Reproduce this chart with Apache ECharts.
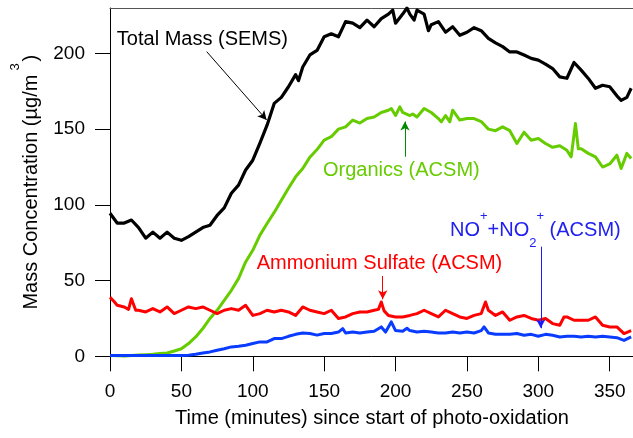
<!DOCTYPE html>
<html>
<head>
<meta charset="utf-8">
<script src="https://cdn.jsdelivr.net/npm/echarts@6/dist/echarts.min.js"></script>
<style>
html,body{margin:0;padding:0;background:#fff;}
#chart{width:633px;height:438px;}
</style>
</head>
<body>
<div id="chart"></div>
<script>
// ---- data (minutes, µg/m3) ----
const xTicks = [0, 50, 100, 150, 200, 250, 300, 350];
const yTicks = [0, 50, 100, 150, 200];

const totalMass = [
 [0,94.5],[5,88],[10,88],[15,90],[20,85],[25,78],[30,82],[35,78],[40,82],[45,78],[50,76.6],[55,79],[60,82],[65,85],[70,86.5],[75,93],[80,98],[85,107.7],[90,113],[95,123],[100,129.5],[105,140.7],[110,152.6],[115,167],[120,171],[125,178],[130,186],[132,182],[135,191],[140,199],[145,202],[150,211],[155,213],[160,211],[165,221],[170,220],[175,217],[180,222],[185,217.6],[190,223],[195,226],[198,228.6],[200,220],[205,226],[208,230],[210,226],[213,222],[215,228.6],[220,226],[223,215],[225,219],[230,221],[235,214],[240,217.6],[245,212],[250,214],[255,217],[260,215],[265,210],[270,207],[275,204.5],[280,201],[285,201],[290,199],[295,196.7],[300,195.6],[305,193],[310,190],[315,184.5],[320,183.6],[325,194],[330,189],[335,183.5],[340,177],[345,179],[350,178],[355,172],[358,169],[362,171],[365,177]
];
const organics = [
 [0,0.5],[5,0.3],[10,0],[15,0.5],[20,0.8],[25,1],[30,1.3],[35,1.8],[40,2.2],[45,3.5],[50,5],[55,8.4],[60,12.8],[65,18.3],[70,25],[75,30.4],[80,37],[85,43.6],[90,51.3],[95,62.3],[100,70],[105,80],[110,87.7],[115,95],[120,103],[125,111],[130,118.5],[135,124],[140,131.5],[145,136.5],[150,142.7],[155,145],[160,150],[165,151.5],[170,156],[175,154],[180,157],[185,158],[190,161],[195,162.5],[197,163.6],[200,159],[203,164.7],[205,161],[210,159],[212,160],[215,158],[220,163.6],[225,161],[230,157],[232,154.8],[235,159],[238,154.8],[240,162.5],[245,156],[250,157],[255,157],[260,155],[265,150],[270,149],[275,151.5],[280,149],[285,140.5],[290,148],[295,142.7],[300,143.8],[305,140.5],[310,138],[315,139],[320,136],[323,131.7],[326,153.7],[328,137],[330,137],[335,134],[340,131.7],[345,125],[350,127],[355,132.8],[358,124],[362,134],[365,130.6]
];
const ammoniumSulfate = [
 [0,39],[3,36],[5,33.7],[10,32.6],[13,31],[15,38],[18,30.4],[20,30.4],[25,29.3],[30,31.5],[35,29.3],[40,32.6],[45,28.2],[50,30.4],[55,32.6],[60,31.5],[65,32.6],[70,30.4],[75,28.2],[80,30.4],[85,31.5],[90,30.4],[95,33.7],[100,27],[105,28.2],[110,30.4],[115,29.3],[120,30.4],[125,29.3],[130,27],[135,32.6],[140,30.4],[145,29.3],[150,28.2],[155,30.4],[160,25],[165,26],[170,28.2],[175,29.3],[180,29.3],[185,30.4],[188,31],[190,35.9],[192,30],[195,27],[200,26],[205,26],[210,27],[215,28.2],[220,30.4],[225,28.2],[230,26],[235,30.4],[240,28.2],[245,26],[250,25],[255,27],[260,28.2],[263,35.9],[265,30.4],[270,27],[275,29.3],[280,23.8],[285,26],[290,27],[295,25],[300,23.8],[305,25],[310,21.6],[315,20.5],[318,26],[320,26],[325,23.8],[330,23.8],[335,23.8],[340,26],[345,20.5],[350,19.4],[355,19.4],[360,15],[365,17]
];
const nitrate = [
 [0,0.5],[10,0.5],[20,0.5],[30,0.5],[40,0.5],[50,0.6],[55,0.7],[60,1.3],[65,2.2],[70,2.9],[75,4],[80,5],[85,6.2],[90,6.6],[95,7.3],[100,8.4],[105,9.5],[110,9.5],[115,11.7],[120,11.7],[125,13.2],[130,14.5],[135,15.4],[140,15],[145,14],[150,15],[155,15],[160,16],[163,18.3],[165,15.4],[170,16],[175,15.4],[180,16],[185,16.5],[190,19.4],[193,16],[197,22.7],[200,17],[205,16.5],[208,18.5],[210,17],[215,16],[220,16.5],[225,16],[230,15.4],[235,15.4],[240,16],[245,15.4],[250,16],[255,15.4],[260,17],[262,19.4],[265,15.4],[270,14.5],[275,14.5],[280,14.5],[285,15],[290,13.9],[295,14.5],[300,13.2],[305,14.5],[310,13.9],[315,12.8],[320,13.2],[325,13.2],[330,12.8],[335,13.2],[340,12.8],[345,13.2],[350,12.8],[355,12.3],[360,10.5],[365,12.8]
];

// annotation anchors in data units: [minute, value]
const totalArrow = [[67.7, 201.2], [109.7, 156.1]];
const organicsArrow = [[206.6, 131.8], [206.6, 155]];
const sulfateArrow = [[191, 53], [191, 37.6]];
const nitrateArrow = [[301.7, 72.4], [301.7, 18.5]];
const totalLabelAt = [4.8, 209.5];
const organicsLabelAt = [149.2, 122.4];
const sulfateLabelAt = [102.7, 61];
const nitrateLabelAt = [238.1, 83.4];

const FONT = '"Liberation Sans", Arial, sans-serif';

function arrow(pts, color) {
  return {
    silent: true,
    symbol: ['none', 'arrow'],
    symbolSize: [7, 9],
    label: {show: false},
    lineStyle: {color: color, width: 1, type: 'solid'},
    emphasis: {disabled: true},
    animation: false,
    data: [[{coord: pts[0]}, {coord: pts[1]}]]
  };
}

function lineSeries(name, data, color, width, arr) {
  return {
    name: name, type: 'line', data: data, showSymbol: false, symbol: 'none',
    lineStyle: {color: color, width: width, join: 'round'},
    itemStyle: {color: color},
    animation: false, silent: true,
    markLine: arr
  };
}

const chart = echarts.init(document.getElementById('chart'));
chart.setOption({
  backgroundColor: '#fff',
  animation: false,
  grid: {left: 110, right: -1, top: 8, bottom: 81.7, containLabel: false, outerBoundsMode: 'none'},
  xAxis: [{
    type: 'value', min: 0, max: 367, interval: 50,
    axisLine: {show: true, onZero: false, lineStyle: {color: '#000', width: 1}},
    axisTick: {show: true, length: 15, inside: false, lineStyle: {color: '#000'}, customValues: xTicks},
    axisLabel: {fontSize: 19, color: '#000', fontFamily: FONT, margin: 26, customValues: xTicks},
    splitLine: {show: false},
    name: 'Time (minutes) since start of photo-oxidation',
    nameLocation: 'middle', nameGap: 52, nameMoveOverlap: false,
    nameTextStyle: {fontSize: 20, color: '#000', fontFamily: FONT}
  }, {
    type: 'value', position: 'top', min: 0, max: 367,
    axisLine: {show: true, onZero: false, lineStyle: {color: '#555', width: 1}},
    axisTick: {show: false}, axisLabel: {show: false}, splitLine: {show: false}
  }],
  yAxis: {
    type: 'value', min: 0, max: 230, interval: 50,
    axisLine: {show: true, onZero: false, lineStyle: {color: '#000', width: 1}},
    axisTick: {show: true, length: 15, inside: false, lineStyle: {color: '#000'}, customValues: yTicks},
    axisLabel: {fontSize: 19, color: '#000', fontFamily: FONT, margin: 25, customValues: yTicks},
    splitLine: {show: false},
    name: 'Mass Concentration (µg/m{sup|3}{p|)}',
    nameLocation: 'middle', nameGap: 57, nameMoveOverlap: false,
    nameTextStyle: {
      fontSize: 20, color: '#000', fontFamily: FONT, lineHeight: 44,
      rich: {
        sup: {fontSize: 13, color: '#000', fontFamily: FONT, verticalAlign: 'top', lineHeight: 13, padding: [0, 2, 0, 4]},
        p: {fontSize: 20, color: '#000', fontFamily: FONT, lineHeight: 44}
      }
    }
  },
  series: [
    lineSeries('Total Mass (SEMS)', totalMass, '#000000', 3.2, arrow(totalArrow, '#000')),
    lineSeries('Organics (ACSM)', organics, '#66cc00', 3, arrow(organicsArrow, '#008a00')),
    lineSeries('Ammonium Sulfate (ACSM)', ammoniumSulfate, '#ff0000', 3, arrow(sulfateArrow, '#ff0000')),
    lineSeries('NO+ + NO2+ (ACSM)', nitrate, '#0a3cff', 3, arrow(nitrateArrow, '#1a1aff'))
  ]
});

function px(p) { return chart.convertToPixel({xAxisIndex: 0, yAxisIndex: 0}, p); }
const labels = [
  {at: totalLabelAt, text: 'Total Mass (SEMS)', color: '#000'},
  {at: organicsLabelAt, text: 'Organics (ACSM)', color: '#66cc00'},
  {at: sulfateLabelAt, text: 'Ammonium Sulfate (ACSM)', color: '#ff0000'},
  {at: nitrateLabelAt, text: 'NO{sup|+}+NO{sub|2}{sup|+} (ACSM)', color: '#2020f0'}
];
chart.setOption({
  graphic: labels.map(function (l) {
    const p = px(l.at);
    return {
      type: 'text', x: p[0], y: p[1], silent: true,
      style: {
        text: l.text, fill: l.color, fontSize: 20, fontFamily: FONT,
        align: 'left', verticalAlign: 'middle', lineHeight: 40,
        rich: {
          sup: {fontSize: 13, fill: l.color, fontFamily: FONT, verticalAlign: 'top', lineHeight: 16},
          sub: {fontSize: 13, fill: l.color, fontFamily: FONT, verticalAlign: 'bottom', lineHeight: 23}
        }
      }
    };
  })
});
</script>
</body>
</html>
